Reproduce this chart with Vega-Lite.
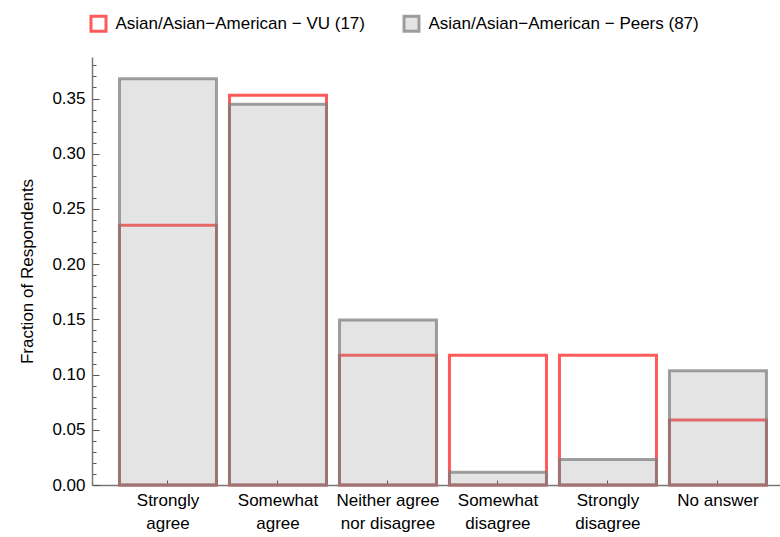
{
  "$schema": "https://vega.github.io/schema/vega-lite/v6.json",
  "width": 688,
  "height": 428,
  "autosize": "none",
  "padding": {"left": 92, "top": 57, "right": 0, "bottom": 52},
  "background": "white",
  "config": {"view": {"stroke": null}, "font": "Liberation Sans", "axis": {"grid": false}},
  "data": {"values": [
    {"answer": "Strongly agree", "group": "Asian/Asian−American − VU (17)", "value": 0.2353},
    {"answer": "Somewhat agree", "group": "Asian/Asian−American − VU (17)", "value": 0.3529},
    {"answer": "Neither agree nor disagree", "group": "Asian/Asian−American − VU (17)", "value": 0.1176},
    {"answer": "Somewhat disagree", "group": "Asian/Asian−American − VU (17)", "value": 0.1176},
    {"answer": "Strongly disagree", "group": "Asian/Asian−American − VU (17)", "value": 0.1176},
    {"answer": "No answer", "group": "Asian/Asian−American − VU (17)", "value": 0.0588},
    {"answer": "Strongly agree", "group": "Asian/Asian−American − Peers (87)", "value": 0.3678},
    {"answer": "Somewhat agree", "group": "Asian/Asian−American − Peers (87)", "value": 0.3448},
    {"answer": "Neither agree nor disagree", "group": "Asian/Asian−American − Peers (87)", "value": 0.1494},
    {"answer": "Somewhat disagree", "group": "Asian/Asian−American − Peers (87)", "value": 0.0115},
    {"answer": "Strongly disagree", "group": "Asian/Asian−American − Peers (87)", "value": 0.0230},
    {"answer": "No answer", "group": "Asian/Asian−American − Peers (87)", "value": 0.1034}
  ]},
  "encoding": {
    "x": {
      "field": "answer", "type": "nominal", "sort": null,
      "scale": {"paddingInner": 0.118, "paddingOuter": 0.1864, "align": 0.67},
      "axis": {
        "title": null, "labelAngle": 0, "labelFontSize": 17, "labelColor": "black",
        "labelLineHeight": 23, "labelPadding": 12, "tickSize": -5, "tickColor": "#444",
        "domainColor": "#777", "domainWidth": 1.5,
        "labelExpr": "datum.label == 'Neither agree nor disagree' ? ['Neither agree', 'nor disagree'] : datum.label == 'No answer' ? 'No answer' : split(datum.label, ' ')"
      }
    },
    "stroke": {
      "field": "group", "type": "nominal",
      "scale": {"domain": ["Asian/Asian−American − VU (17)", "Asian/Asian−American − Peers (87)"], "range": ["#ff5a5a", "rgba(123,123,123,0.72)"]},
      "legend": {"orient": "none", "legendX": -2.5, "legendY": -42.5, "direction": "horizontal", "title": null, "symbolType": "square", "symbolSize": 225, "symbolStrokeWidth": 3, "labelFontSize": 17, "labelColor": "black", "labelOffset": 8, "labelLimit": 0, "columnPadding": 32, "padding": 0}
    },
    "fill": {
      "field": "group", "type": "nominal",
      "scale": {"domain": ["Asian/Asian−American − VU (17)", "Asian/Asian−American − Peers (87)"], "range": ["rgba(255,255,255,0)", "rgba(148,148,148,0.25)"]},
      "legend": {"orient": "none", "legendX": -2.5, "legendY": -42.5, "direction": "horizontal", "title": null, "symbolType": "square", "symbolSize": 225, "symbolStrokeWidth": 3, "labelFontSize": 17, "labelColor": "black", "labelOffset": 8, "labelLimit": 0, "columnPadding": 32, "padding": 0}
    }
  },
  "resolve": {"axis": {"y": "independent"}},
  "layer": [
    {
      "transform": [{"filter": "datum.group == 'Asian/Asian−American − VU (17)'"}],
      "mark": {"type": "bar", "strokeWidth": 3},
      "encoding": {
        "y": {
          "field": "value", "type": "quantitative", "stack": null,
          "scale": {"domain": [0, 0.3876], "nice": false, "zero": true},
          "axis": {"orient": "left", "title": null, "labels": false, "domain": false, "tickSize": -4, "tickColor": "#555",
            "values": [0.01,0.02,0.03,0.04,0.06,0.07,0.08,0.09,0.11,0.12,0.13,0.14,0.16,0.17,0.18,0.19,0.21,0.22,0.23,0.24,0.26,0.27,0.28,0.29,0.31,0.32,0.33,0.34,0.36,0.37,0.38]}
        }
      }
    },
    {
      "transform": [{"filter": "datum.group == 'Asian/Asian−American − Peers (87)'"}],
      "mark": {"type": "bar", "strokeWidth": 3},
      "encoding": {
        "y": {
          "field": "value", "type": "quantitative", "stack": null,
          "scale": {"domain": [0, 0.3876], "nice": false, "zero": true},
          "axis": {"orient": "left", "title": "Fraction of Respondents", "titleFontSize": 17, "titleFontWeight": "normal", "titleColor": "black", "titlePadding": 15,
            "values": [0, 0.05, 0.1, 0.15, 0.2, 0.25, 0.3, 0.35], "format": ".2f",
            "labelFontSize": 17, "labelColor": "black", "labelPadding": 14, "tickSize": -7, "tickColor": "#555",
            "domainColor": "#777", "domainWidth": 1.5}
        }
      }
    }
  ]
}
